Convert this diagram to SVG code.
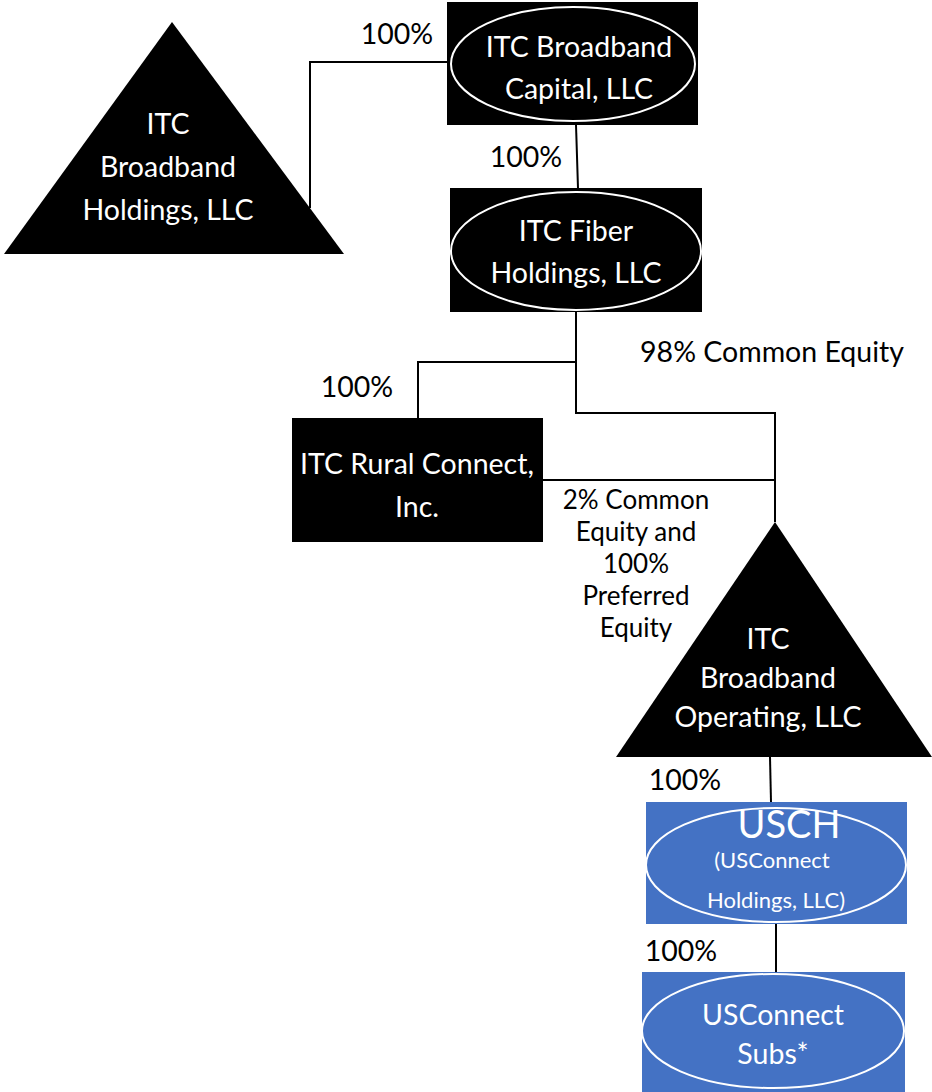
<svg xmlns="http://www.w3.org/2000/svg" width="932" height="1092" viewBox="0 0 932 1092">
<style>
text{font-family:Lato,"Open Sans","Liberation Sans",sans-serif;text-anchor:middle}
.w{fill:#fff;font-size:28.5px}
.k{fill:#000;font-size:28.5px}
.s{fill:#000;font-size:26px}
.blk{fill:#000}
.blue{fill:#4472C4}
.ell{fill:none;stroke:#fff;stroke-width:2}
.c{fill:none;stroke:#000;stroke-width:2}
</style>
<rect width="932" height="1092" fill="#fff"/>
<g id="connectors">
<polyline class="c" points="310,208 310,62 447,62"/>
<line class="c" x1="576" y1="125" x2="578" y2="188"/>
<polyline class="c" points="576,312 576,413 775,413 775,522"/>
<polyline class="c" points="576,362 418,362 418,418"/>
<line class="c" x1="543" y1="480" x2="775" y2="480"/>
<line class="c" x1="770" y1="757" x2="771" y2="802"/>
<line class="c" x1="776" y1="924" x2="776" y2="972"/>
</g>
<g id="labels">
<text class="k" x="397" y="44">100%</text>
<text class="k" x="526" y="167">100%</text>
<text class="k" x="772" y="362">98% Common Equity</text>
<text class="k" x="357" y="397">100%</text>
<text class="s" x="636" y="509">2% Common</text>
<text class="s" x="636" y="541">Equity and</text>
<text class="s" x="636" y="573">100%</text>
<text class="s" x="636" y="605">Preferred</text>
<text class="s" x="636" y="637">Equity</text>
<text class="k" x="685" y="790">100%</text>
<text class="k" x="681" y="961">100%</text>
</g>
<g id="holdings">
<polygon class="blk" points="172,22 344,254 4,254"/>
<text class="w" x="168" y="134">ITC</text>
<text class="w" x="168" y="177">Broadband</text>
<text class="w" x="168" y="220">Holdings, LLC</text>
</g>
<g id="capital">
<rect class="blk" x="447" y="2" width="251" height="123"/>
<ellipse class="ell" cx="573" cy="64" rx="122" ry="57"/>
<text class="w" x="579" y="57">ITC Broadband</text>
<text class="w" x="579" y="99">Capital, LLC</text>
</g>
<g id="fiber">
<rect class="blk" x="450" y="188" width="252" height="124"/>
<ellipse class="ell" cx="576" cy="251" rx="125" ry="59"/>
<text class="w" x="576" y="241">ITC Fiber</text>
<text class="w" x="576" y="283">Holdings, LLC</text>
</g>
<g id="rural">
<rect class="blk" x="292" y="418" width="251" height="124"/>
<text class="w" x="417" y="474">ITC Rural Connect,</text>
<text class="w" x="417" y="517">Inc.</text>
</g>
<g id="operating">
<polygon class="blk" points="775,522 932,757 616,757"/>
<text class="w" x="768" y="649">ITC</text>
<text class="w" x="768" y="688">Broadband</text>
<text class="w" x="768" y="727">Operating, LLC</text>
</g>
<g id="usch">
<rect class="blue" x="646" y="802" width="261" height="122"/>
<ellipse class="ell" cx="776" cy="865" rx="130" ry="57"/>
<text class="w" x="789" y="838" style="font-size:38px">USCH</text>
<text class="w" x="772" y="868" style="font-size:22px">(USConnect</text>
<text class="w" x="776" y="908" style="font-size:22px">Holdings, LLC)</text>
</g>
<g id="subs">
<rect class="blue" x="642" y="972" width="263" height="120"/>
<ellipse class="ell" cx="773" cy="1031" rx="131" ry="57"/>
<text class="w" x="773" y="1025">USConnect</text>
<text class="w" x="773" y="1064">Subs*</text>
</g>
</svg>
